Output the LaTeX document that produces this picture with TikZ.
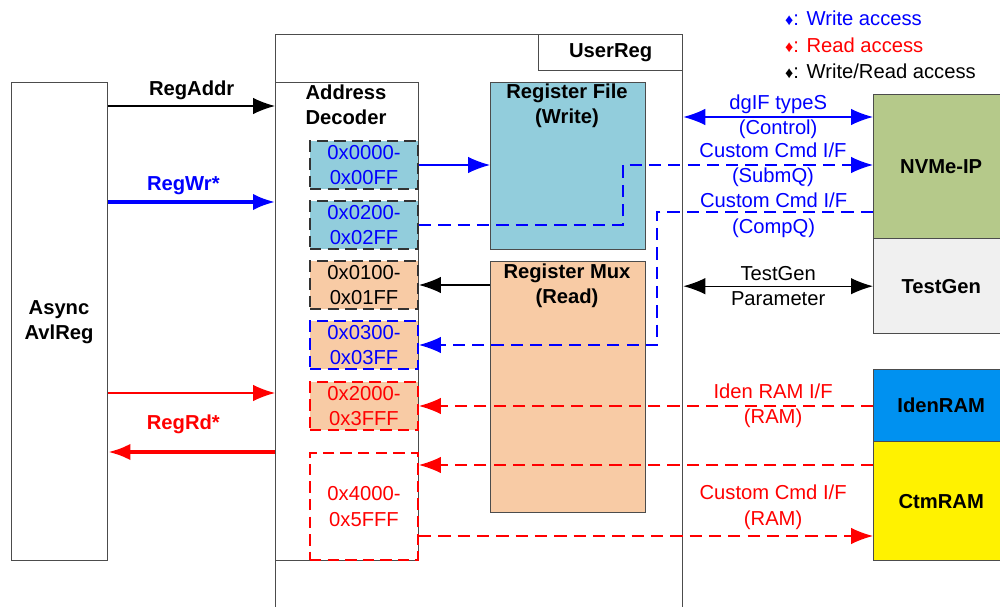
\documentclass[tikz,border=0pt]{standalone}
\usepackage{fontspec}
\setmainfont{Liberation Sans}
\usetikzlibrary{arrows.meta}

\definecolor{wrblue}{RGB}{146,205,220}
\definecolor{rdorange}{RGB}{248,203,165}
\definecolor{nvgreen}{RGB}{181,201,138}
\definecolor{tggray}{RGB}{240,240,240}
\definecolor{idblue}{RGB}{0,145,240}
\newcommand\figfont{\fontsize{11.5}{14.5}\selectfont}
\newcommand\keymark{{\scalebox{0.8}{♦}}}

\tikzset{>={Latex[length=4.4mm,width=3.3mm]}}
\tikzset{
  blk/.style={draw=black!70,line width=0.8pt,anchor=north west,inner sep=0pt},
  ttl/.style={font=\figfont\bfseries,align=center},
  rng/.style={line width=1.1pt,dash pattern=on 6.5pt off 3.5pt,minimum width=2.16cm,
              minimum height=0.96cm,inner sep=0pt,align=center},
  lbl/.style={align=center},
  sig/.style={line width=0.7pt},
  bus/.style={line width=1.8pt},
  dsh/.style={dash pattern=on 7pt off 4pt},
}

\begin{document}
\begin{tikzpicture}[x=0.02cm,y=-0.02cm,font=\figfont]
  \useasboundingbox (0,0) rectangle (1000,607);
  \clip (0,0) rectangle (1000,607);

  % host side and the user register block
  \node[blk,minimum width=1.92cm,minimum height=9.56cm] (avl) at (11,82) {};
  \node[ttl] (avlname) at (59,322) {Async\\AvlReg};
  \node[blk,minimum width=8.14cm,minimum height=12cm] (ureg) at (275,34) {};
  \node[blk,ttl,minimum width=2.88cm,minimum height=0.72cm] (uregname) at (538,34) {UserReg};
  \node[blk,minimum width=2.86cm,minimum height=9.56cm] (dec) at (275,82) {};
  \node[ttl,align=left] (decname) at (346,105) {Address\\Decoder};
  \node[blk,fill=wrblue,minimum width=3.1cm,minimum height=3.34cm] (rf) at (490,82) {};
  \node[ttl] (rfname) at (567,106) {Register File\\(Write)};
  \node[blk,fill=rdorange,minimum width=3.1cm,minimum height=5.02cm] (rm) at (490,261) {};
  \node[ttl] (rmname) at (567,286) {Register Mux\\(Read)};

  % address ranges
  \node[rng,fill=wrblue,draw=black!80,text=blue] (r0) at (364,165) {0x0000-\\0x00FF};
  \node[rng,fill=wrblue,draw=black!80,text=blue] (r2) at (364,225) {0x0200-\\0x02FF};
  \node[rng,fill=rdorange,draw=black!80] (r1) at (364,285) {0x0100-\\0x01FF};
  \node[rng,fill=rdorange,draw=blue,text=blue] (r3) at (364,345) {0x0300-\\0x03FF};
  \node[rng,fill=rdorange,draw=red,text=red] (r20) at (364,406) {0x2000-\\0x3FFF};
  \node[rng,fill=white,draw=red,text=red,minimum height=2.14cm] (r40) at (364,506.5) {0x4000-\\0x5FFF};

  % modules on the right
  \node[blk,ttl,fill=nvgreen,minimum width=2.7cm,minimum height=2.88cm] (nvme) at (873,94) {NVMe-IP};
  \node[blk,ttl,fill=tggray,minimum width=2.7cm,minimum height=1.9cm] (tg) at (873,238) {TestGen};
  \node[blk,ttl,fill=idblue,minimum width=2.7cm,minimum height=1.44cm] (iden) at (873,369) {IdenRAM};
  \node[blk,ttl,fill=yellow,minimum width=2.7cm,minimum height=2.38cm] (ctm) at (873,441) {CtmRAM};

  % key
  \node[anchor=west,text=blue] (keywr) at (779,18) {\keymark: Write access};
  \node[anchor=west,text=red] (keyrd) at (779,45) {\keymark: Read access};
  \node[anchor=west] (keywrrd) at (779,71) {\keymark: Write/Read access};

  % Avalon side
  \draw[sig,->] (avl.east |- 0,106) -- node[ttl,above] (addrlbl) {RegAddr} (dec.west |- 0,106);
  \draw[bus,blue,->] (avl.east |- 0,202) -- node[ttl,above,text=blue,pos=0.45] (wrlbl) {RegWr*} (dec.west |- 0,202);
  \draw[sig,red,->] (avl.east |- 0,393) -- (dec.west |- 0,393);
  \draw[bus,red,->] (dec.west |- 0,452) -- node[ttl,above=6pt,text=red,pos=0.55] (rdlbl) {RegRd*} (avl.east |- 0,452);

  % inside UserReg
  \draw[sig,blue,->] (r0.east) -- (rf.west |- r0.east);
  \draw[sig,->] (rm.west |- r1.east) -- (r1.east);
  \draw[sig,blue,dsh,->] (r2.east) -- ++(204,0)
    |- node[lbl,text=blue,pos=0.8] (sqlbl) {Custom Cmd I/F\\(SubmQ)} (nvme.west |- r0.east);
  \coordinate (cqturn) at (657,212);
  \draw[sig,blue,dsh,->] (nvme.west |- cqturn)
    -- node[lbl,text=blue,pos=0.46,yshift=-2pt] (cqlbl) {Custom Cmd I/F\\(CompQ)} (cqturn) |- (r3.east);

  % to the modules
  \draw[sig,blue,<->] (ureg.east |- 0,117) -- node[lbl,text=blue] (ctllbl) {dgIF typeS\\(Control)} (nvme.west |- 0,117);
  \draw[sig,<->] (ureg.east |- tg.west) -- node[lbl] (tglbl) {TestGen\\Parameter} (tg.west);
  \draw[sig,red,dsh,->] (iden.west |- r20.east) -- node[lbl,text=red,pos=0.22] (idlbl) {Iden RAM I/F\\(RAM)} (r20.east);
  \draw[sig,red,dsh,->] (ctm.west |- 0,465) -- (r40.east |- 0,465);
  \draw[sig,red,dsh,->] (r40.east |- 0,536) -- node[lbl,text=red,pos=0.78,above] (ctmlbl) {Custom Cmd I/F\\(RAM)} (ctm.west |- 0,536);
\end{tikzpicture}
\end{document}
